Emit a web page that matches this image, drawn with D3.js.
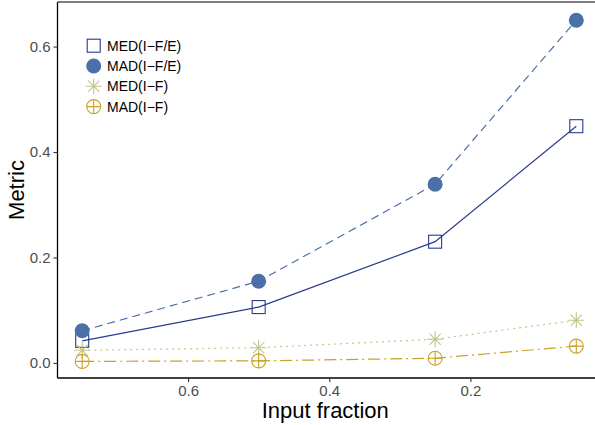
<!DOCTYPE html>
<html>
<head>
<meta charset="utf-8">
<script src="https://cdn.jsdelivr.net/npm/d3@7"></script>
<style>
  body { margin: 0; background: #fff; }
  svg { display: block; font-family: "Liberation Sans", Arial, sans-serif; }
</style>
</head>
<body>
<div id="chart"></div>
<script>
const fractions = [0.75, 0.5, 0.25, 0.05];
const medIFE = [0.042, 0.106, 0.230, 0.449];
const madIFE = [0.061, 0.155, 0.339, 0.650];
const medIF = [0.024, 0.029, 0.045, 0.081];
const madIF = [0.003, 0.004, 0.009, 0.032];
const xTicks = [0.6, 0.4, 0.2];
const yTicks = [0.0, 0.2, 0.4, 0.6];

const series = [
  { name: "MED(I\u2212F/E)", values: medIFE, color: "#2a3a8c", dash: null, shape: "square" },
  { name: "MAD(I\u2212F/E)", values: madIFE, color: "#4a70a8", dash: "8 5", shape: "circle" },
  { name: "MED(I\u2212F)", values: medIF, color: "#c5c58a", dash: "2 4", shape: "star" },
  { name: "MAD(I\u2212F)", values: madIF, color: "#c9a227", dash: "12 4 2 4", shape: "cplus" }
];

const width = 595, height = 425;
const panelLeft = 57.5, panelRight = 601, panelTop = 2, panelBottom = 378;

const svg = d3.select("#chart").append("svg")
  .attr("width", width)
  .attr("height", height);

const x = d3.scaleLinear().domain([0.785, 0.015]).range([panelLeft, panelRight]);
const y = d3.scaleLinear().domain([-0.0285, 0.6845]).range([panelBottom, panelTop]);

// draws one marker centred at (cx, cy)
function marker(g, shape, color, cx, cy) {
  if (shape === "square") {
    g.append("rect")
      .attr("x", cx - 6.5).attr("y", cy - 6.5)
      .attr("width", 13).attr("height", 13)
      .attr("fill", "none").attr("stroke", color).attr("stroke-width", 1.1);
  } else if (shape === "circle") {
    g.append("circle")
      .attr("cx", cx).attr("cy", cy).attr("r", 7.5)
      .attr("fill", color);
  } else if (shape === "star") {
    const r = 8;
    const d = r * Math.SQRT1_2;
    g.append("path")
      .attr("d", `M${cx - r},${cy}H${cx + r}M${cx},${cy - r}V${cy + r}` +
        `M${cx - d},${cy - d}L${cx + d},${cy + d}M${cx - d},${cy + d}L${cx + d},${cy - d}`)
      .attr("stroke", color).attr("stroke-width", 1.1).attr("fill", "none");
  } else {
    const r = 7;
    g.append("circle")
      .attr("cx", cx).attr("cy", cy).attr("r", r)
      .attr("fill", "none").attr("stroke", color).attr("stroke-width", 1.1);
    g.append("path")
      .attr("d", `M${cx - r},${cy}H${cx + r}M${cx},${cy - r}V${cy + r}`)
      .attr("stroke", color).attr("stroke-width", 1.1);
  }
}

const plot = svg.append("g");

const line = d3.line()
  .x((d, i) => x(fractions[i]))
  .y(d => y(d));

series.forEach(s => {
  plot.append("path")
    .attr("d", line(s.values))
    .attr("fill", "none")
    .attr("stroke", s.color)
    .attr("stroke-width", 1.2)
    .attr("stroke-dasharray", s.dash);
});

series.forEach(s => {
  const g = plot.append("g");
  s.values.forEach((v, i) => marker(g, s.shape, s.color, x(fractions[i]), y(v)));
});

// axes
const xAxis = svg.append("g")
  .attr("transform", `translate(0,${panelBottom})`)
  .call(d3.axisBottom(x).tickValues(xTicks).tickFormat(d3.format(".1f")).tickSize(4).tickPadding(3));
const yAxis = svg.append("g")
  .attr("transform", `translate(${panelLeft},0)`)
  .call(d3.axisLeft(y).tickValues(yTicks).tickFormat(d3.format(".1f")).tickSize(4).tickPadding(3));

[xAxis, yAxis].forEach(a => {
  a.select(".domain").attr("stroke", "#000").attr("stroke-width", 1.3);
  a.selectAll(".tick line").attr("stroke", "#333").attr("stroke-width", 1.1);
  a.selectAll(".tick text").attr("fill", "#4d4d4d")
    .style("font-size", "15px").style("font-family", "'Liberation Sans', Arial, sans-serif");
});
xAxis.select(".domain").attr("d", `M${panelLeft},0H${width}`);
yAxis.select(".domain").attr("d", `M0,${panelTop}V${panelBottom}`);

// top border
svg.append("line")
  .attr("x1", panelLeft).attr("x2", width)
  .attr("y1", panelTop).attr("y2", panelTop)
  .attr("stroke", "#555").attr("stroke-width", 1.3);

// axis titles
svg.append("text")
  .attr("x", (panelLeft + panelRight) / 2 - 4)
  .attr("y", 418)
  .attr("text-anchor", "middle")
  .style("font-size", "22px")
  .text("Input fraction");

svg.append("text")
  .attr("transform", `translate(24,${(panelTop + panelBottom) / 2}) rotate(-90)`)
  .attr("text-anchor", "middle")
  .style("font-size", "22px")
  .text("Metric");

// legend
const legend = svg.append("g");
series.forEach((s, i) => {
  const cy = 45.7 + i * 20.3;
  marker(legend, s.shape, s.color, 93.7, cy);
  legend.append("text")
    .attr("x", 107)
    .attr("y", cy + 5)
    .style("font-size", "14px")
    .text(s.name);
});
</script>
</body>
</html>
